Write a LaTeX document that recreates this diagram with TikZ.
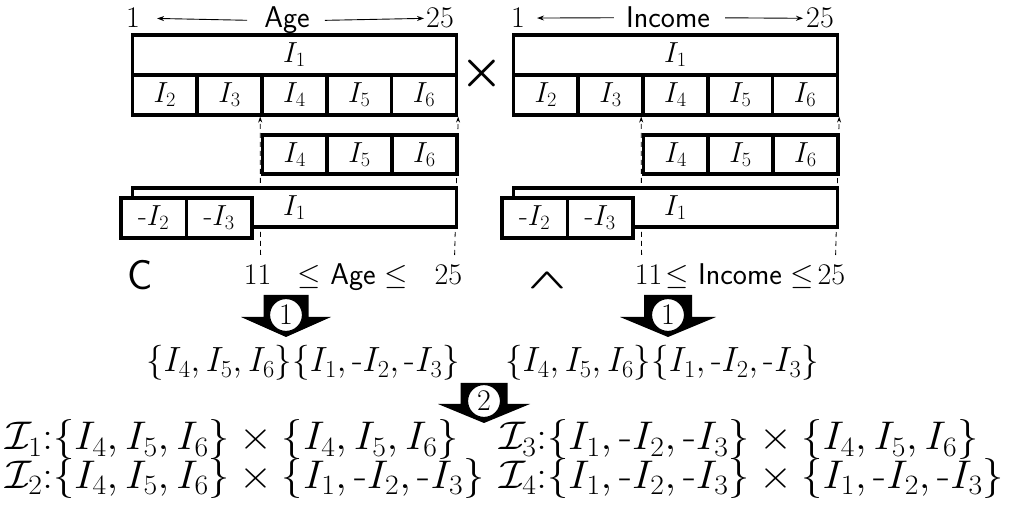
\RequirePackage{fix-cm}
\documentclass[tikz,border=0pt]{standalone}
\usepackage{amsmath}
\usetikzlibrary{arrows.meta}
\newcommand\fs[1]{\fontsize{#1}{#1}\selectfont}
\tikzset{
  box/.style={draw, line width=3.6pt, fill=white, inner sep=0pt, anchor=north west, font=\fs{29}},
  guide/.style={line width=0.8pt, dash pattern=on 5pt off 4pt},
  thin/.style={line width=0.9pt},
  lbl/.style={inner sep=0pt, font=\fs{30}},
  badge/.style={circle, draw, fill=white, line width=1.2pt, inner sep=0pt, minimum size=33pt, font=\fs{30}},
  setl/.style={inner sep=0pt, anchor=base, font=\fs{35}},
  res/.style={inner sep=0pt, anchor=base west, font=\fs{40}, xscale=1.06, transform shape},
}
\newcommand\attrgroup[2]{%
  % #1 x offset, #2 prefix
  \coordinate (#2g1) at (260.6+#1, 255);
  \coordinate (#2g2) at (454.6+#1, 255);
  \node[box, minimum width=324pt, minimum height=40pt] (#2top) at (130.6+#1, 33) {$I_1$};
  \foreach \k in {2,...,6}{
    \node[box, minimum width=64.8pt, minimum height=40pt] (#2c\k) at (130.6+#1+64.8*\k-129.6, 73) {$I_\k$};
  }
}
\begin{document}
\begin{tikzpicture}[x=1pt,y=-1pt]
\useasboundingbox (0,0) rectangle (1010,518);

% ---------- attribute groups ----------
\attrgroup{0}{L}
\attrgroup{381}{R}
\foreach \p in {L,R}{
  \draw[guide, -{Stealth[length=6pt,width=4pt]}] (\p g1) -- (\p c4.south west);
  \draw[guide, -{Stealth[length=6pt,width=4pt]}] (\p g2) -- (\p c6.south east);
}
\foreach \p/\o in {L/0,R/381}{
  \foreach \k in {4,5,6}{
    \node[box, minimum width=64.8pt, minimum height=39pt] (\p d\k) at (260.6+\o+64.8*\k-259.2, 133) {$I_\k$};
  }
  \node[box, minimum width=324pt, minimum height=39pt] (\p e1) at (130.6+\o, 186) {$I_1$};
  \node[box, minimum width=65.5pt, minimum height=40pt] (\p n2) at (119+\o, 196) {$\mbox{-}I_2$};
  \node[box, minimum width=65.5pt, minimum height=40pt] (\p n3) at (184.5+\o, 196) {$\mbox{-}I_3$};
}

% ---------- top labels ----------
\node[lbl, anchor=base] (Lone) at (133, 28) {1};
\node[lbl, anchor=base] (Lname) at (287, 28) {\sffamily Age};
\node[lbl, anchor=base] (Lend) at (440, 28) {25};
\draw[thin, -{Stealth[length=7pt,width=5pt]}, shorten >=17pt, shorten <=17pt] (Lname.west) -- (Lone.east);
\draw[thin, -{Stealth[length=7pt,width=5pt]}, shorten >=2pt, shorten <=15pt] (Lname.east) -- (Lend.west);

\node[lbl, anchor=base] (Rone) at (518, 28) {1};
\node[lbl, anchor=base] (Rname) at (668, 28) {\sffamily Income};
\node[lbl, anchor=base] (Rend) at (820, 28) {25};
\draw[thin, -{Stealth[length=7pt,width=5pt]}, shorten >=12pt, shorten <=12pt] (Rname.west) -- (Rone.east);
\draw[thin, -{Stealth[length=7pt,width=5pt]}, shorten >=3pt, shorten <=15pt] (Rname.east) -- (Rend.west);

% cross product sign
\node[inner sep=0pt, font=\fs{48}] (cross) at (482, 74) {$\boldsymbol{\times}$};

% ---------- conditions ----------
\node[inner sep=0pt, font=\fs{42}\sffamily] (cc) at (140, 275) {C};
\node[inner sep=0pt, font=\fs{50}, yscale=0.55, transform shape] (andsym) at (547, 281) {$\boldsymbol{\wedge}$};
\node[lbl, anchor=base] (Lcond) at (353, 285) {$11\ \ \le$ \textsf{Age} $\le\ \ 25$};
\node[lbl, anchor=base] (Rcond) at (740, 285) {$11\!\le$ \textsf{Income} $\le\!25$};

% ---------- block arrows ----------
\fill (286-22.5,295) -- (286+22.5,295) -- (286+22.5,317) -- (286+45,317) -- (286,337) -- (286-45,317) -- (286-22.5,317) -- cycle;
\node[badge] (s1a) at (286,315) {1};
\fill (668-24,295) -- (668+24,295) -- (668+24,317) -- (668+48,317) -- (668,337) -- (668-48,317) -- (668-24,317) -- cycle;
\node[badge] (s1b) at (668,315) {1};
\fill (484-23.5,383) -- (484+23.5,383) -- (484+23.5,404) -- (484+46,404) -- (484,423) -- (484-46,404) -- (484-23.5,404) -- cycle;
\node[badge] (s2) at (484,401) {2};

% ---------- sets ----------
\node[setl] (Lset) at (303, 372) {$\{I_4,I_5,I_6\}\{I_1,\mbox{-}I_2,\mbox{-}I_3\}$};
\node[setl] (Rset) at (662, 372) {$\{I_4,I_5,I_6\}\{I_1,\mbox{-}I_2,\mbox{-}I_3\}$};

% ---------- results ----------
\node[res] (r1) at (5, 450) {$\mathcal{I}_1{:}\{I_4,I_5,I_6\}\times\{I_4,I_5,I_6\}$};
\node[res] (r2) at (5, 489) {$\mathcal{I}_2{:}\{I_4,I_5,I_6\}\times\{I_1,\mbox{-}I_2,\mbox{-}I_3\}$};
\node[res] (r3) at (499, 450) {$\mathcal{I}_3{:}\{I_1,\mbox{-}I_2,\mbox{-}I_3\}\times\{I_4,I_5,I_6\}$};
\node[res] (r4) at (499, 489) {$\mathcal{I}_4{:}\{I_1,\mbox{-}I_2,\mbox{-}I_3\}\times\{I_1,\mbox{-}I_2,\mbox{-}I_3\}$};
\end{tikzpicture}
\end{document}
